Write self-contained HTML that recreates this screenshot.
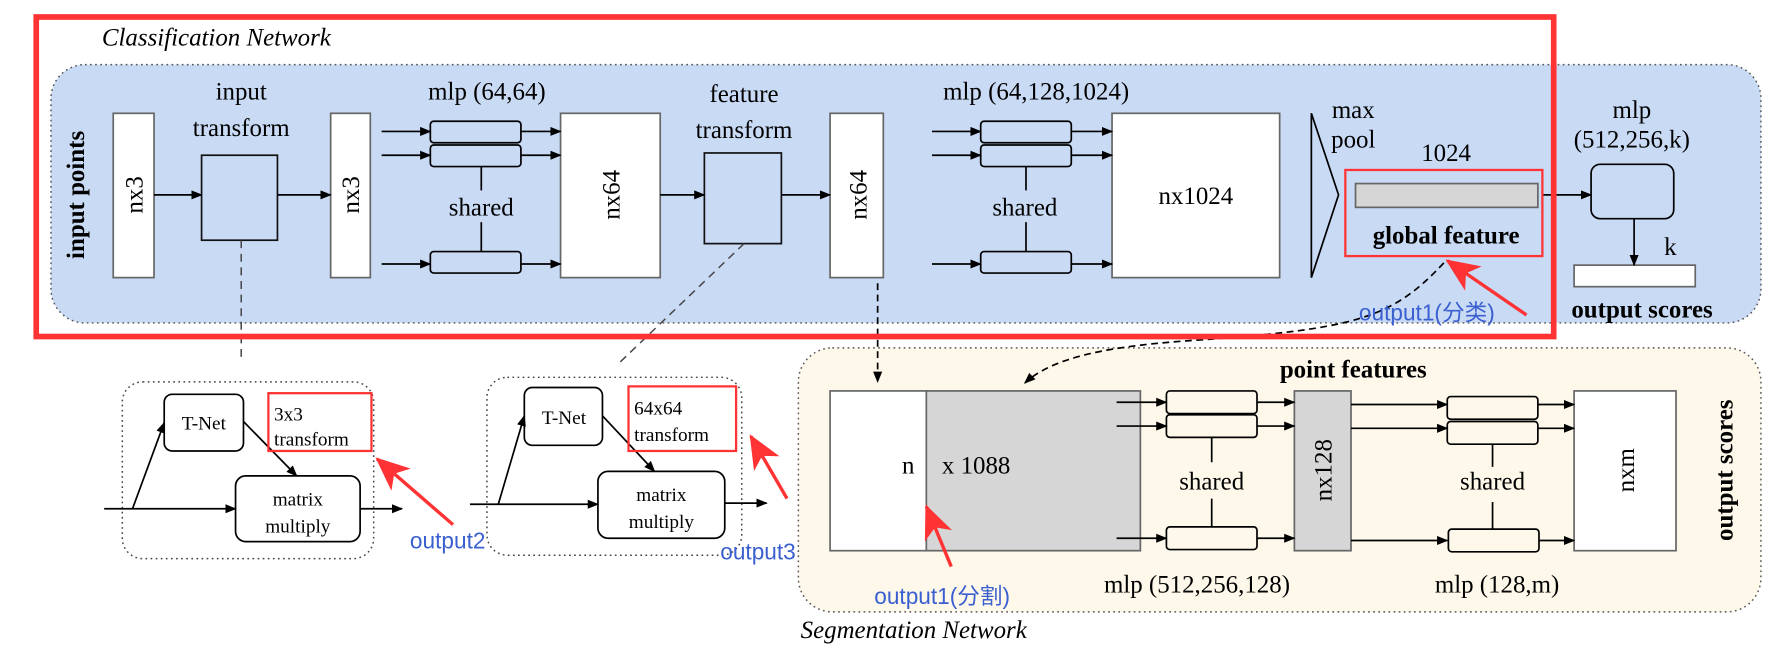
<!DOCTYPE html>
<html><head><meta charset="utf-8"><style>
html,body{margin:0;padding:0;background:#fff;}
svg{display:block}
svg text{font-family:"Liberation Serif","Times New Roman",serif;fill:#000}
svg text.c{font-family:"Liberation Sans","Noto Sans CJK SC",sans-serif;fill:#3a5fd0}
</style></head><body>
<svg width="1770" height="647" viewBox="0 0 1563 571" preserveAspectRatio="none" xmlns="http://www.w3.org/2000/svg" font-family="Liberation Serif, serif">
<defs>
<marker id="a" markerWidth="10" markerHeight="8" refX="9" refY="4" orient="auto" markerUnits="userSpaceOnUse"><path d="M0,0 L10,4 L0,8 z" fill="#000"/></marker>
<marker id="r" markerWidth="30" markerHeight="26" refX="28" refY="13" orient="auto" markerUnits="userSpaceOnUse"><path d="M0,0 L30,13 L0,26 L8,13 z" fill="#f33"/></marker>
</defs>
<rect x="45" y="57" width="1510" height="228" rx="30" fill="#c9daf5" stroke="#555" stroke-width="1.3" stroke-dasharray="1.5 3"/>
<rect x="705" y="307" width="850" height="233" rx="30" fill="#fdf8ea" stroke="#555" stroke-width="1.3" stroke-dasharray="1.5 3"/>

<text x="90" y="40" font-size="22" font-style="italic" font-family="Liberation Serif, serif">Classification Network</text>
<text transform="translate(74,172) rotate(-90)" font-size="22" font-weight="bold" text-anchor="middle" font-family="Liberation Serif, serif">input points</text>

<g stroke="#666" stroke-width="1.5" fill="#fff">
<rect x="100" y="100" width="36" height="145"/>
<rect x="292" y="100" width="35" height="145"/>
<rect x="495" y="100" width="88" height="145"/>
<rect x="733" y="100" width="47" height="145"/>
<rect x="982" y="100" width="148" height="145"/>
<rect x="1390" y="234" width="107" height="19"/>
</g>
<g stroke="#111" stroke-width="1.5" fill="none">
<rect x="178" y="137" width="67" height="75"/>
<rect x="622" y="135" width="68" height="80"/>
</g>
<g font-size="22" text-anchor="middle" font-family="Liberation Serif, serif">
<text transform="translate(126,172) rotate(-90)">nx3</text>
<text transform="translate(317,172) rotate(-90)">nx3</text>
<text transform="translate(547,172) rotate(-90)">nx64</text>
<text transform="translate(765,172) rotate(-90)">nx64</text>
<text x="1056" y="180">nx1024</text>
<text x="213" y="88">input</text>
<text x="213" y="120">transform</text>
<text x="657" y="90">feature</text>
<text x="657" y="122">transform</text>
<text x="430" y="88">mlp (64,64)</text>
<text x="915" y="88">mlp (64,128,1024)</text>
<text x="425" y="190">shared</text>
<text x="905" y="190">shared</text>
<text x="1195" y="104">max</text>
<text x="1195" y="130">pool</text>
<text x="1277" y="142">1024</text>
<text x="1441" y="104">mlp</text>
<text x="1441" y="130">(512,256,k)</text>
<text x="1475" y="225">k</text>
</g>
<g stroke="#000" stroke-width="1.5" fill="none">
<rect x="380" y="107" width="80" height="19" rx="3"/>
<rect x="380" y="128" width="80" height="19" rx="3"/>
<rect x="380" y="222" width="80" height="19" rx="3"/>
<rect x="866" y="107" width="80" height="19" rx="3"/>
<rect x="866" y="128" width="80" height="19" rx="3"/>
<rect x="866" y="222" width="80" height="19" rx="3"/>
<path d="M425 147V168M425 196V222M906 147V168M906 196V222"/>
<rect x="1405" y="145" width="73" height="48" rx="8"/>
<path d="M1158 100V245L1182 172Z"/>
</g>
<g stroke="#000" stroke-width="1.5" marker-end="url(#a)">
<line x1="136" y1="172" x2="178" y2="172"/>
<line x1="245" y1="172" x2="292" y2="172"/>
<line x1="583" y1="172" x2="622" y2="172"/>
<line x1="690" y1="172" x2="733" y2="172"/>
<line x1="337" y1="116" x2="380" y2="116"/><line x1="337" y1="137" x2="380" y2="137"/><line x1="337" y1="233" x2="380" y2="233"/>
<line x1="460" y1="116" x2="495" y2="116"/><line x1="460" y1="137" x2="495" y2="137"/><line x1="460" y1="233" x2="495" y2="233"/>
<line x1="823" y1="116" x2="866" y2="116"/><line x1="823" y1="137" x2="866" y2="137"/><line x1="823" y1="233" x2="866" y2="233"/>
<line x1="946" y1="116" x2="982" y2="116"/><line x1="946" y1="137" x2="982" y2="137"/><line x1="946" y1="233" x2="982" y2="233"/>
<line x1="1362" y1="172" x2="1405" y2="172"/>
<line x1="1443" y1="193" x2="1443" y2="234"/>
</g>
<rect x="1197" y="162" width="161" height="21" fill="#d6d6d6" stroke="#666" stroke-width="1.5"/>
<text x="1277" y="215" font-size="22" font-weight="bold" text-anchor="middle" font-family="Liberation Serif, serif">global feature</text>
<text x="1450" y="280" font-size="22" font-weight="bold" text-anchor="middle" font-family="Liberation Serif, serif">output scores</text>

<g stroke="#444" stroke-width="1.3" stroke-dasharray="7 5" fill="none">
<line x1="213" y1="212" x2="213" y2="320"/>
<line x1="657" y1="215" x2="545" y2="322"/>
</g>
<g stroke="#000" stroke-width="1.5" stroke-dasharray="6 4" fill="none" marker-end="url(#a)">
<line x1="775" y1="250" x2="775" y2="337"/>
<path d="M1275 232 C1230 280 1200 290 1060 300 C980 305 930 315 905 338"/>
</g>

<g stroke="#444" stroke-width="1.3" stroke-dasharray="1.5 3" fill="none">
<rect x="108" y="337" width="222" height="156" rx="18"/>
<rect x="430" y="333" width="225" height="157" rx="18"/>
</g>
<g stroke="#000" stroke-width="1.5" fill="#fff">
<rect x="145" y="348" width="70" height="50" rx="7"/>
<rect x="208" y="420" width="110" height="58" rx="9"/>
<rect x="463" y="342" width="69" height="51" rx="7"/>
<rect x="528" y="416" width="112" height="59" rx="9"/>
</g>
<g stroke="#000" stroke-width="1.5" marker-end="url(#a)">
<line x1="92" y1="449" x2="208" y2="449"/>
<line x1="117" y1="449" x2="145" y2="373"/>
<line x1="215" y1="372" x2="262" y2="420"/>
<line x1="318" y1="449" x2="355" y2="449"/>
<line x1="415" y1="445" x2="528" y2="445"/>
<line x1="440" y1="445" x2="463" y2="367"/>
<line x1="532" y1="367" x2="578" y2="416"/>
<line x1="640" y1="444" x2="677" y2="444"/>
</g>
<g font-size="17" text-anchor="middle" font-family="Liberation Serif, serif">
<text x="180" y="379">T-Net</text>
<text x="498" y="374">T-Net</text>
<text x="263" y="446">matrix</text>
<text x="263" y="470">multiply</text>
<text x="584" y="442">matrix</text>
<text x="584" y="466">multiply</text>
</g>
<g font-size="17" font-family="Liberation Serif, serif">
<text x="242" y="371">3x3</text>
<text x="242" y="393">transform</text>
<text x="560" y="366">64x64</text>
<text x="560" y="389">transform</text>
</g>

<rect x="733" y="345" width="85" height="141" fill="#fff" stroke="#666" stroke-width="1.5"/>
<rect x="818" y="345" width="189" height="141" fill="#d6d6d6" stroke="#666" stroke-width="1.5"/>
<rect x="1143" y="345" width="50" height="141" fill="#d6d6d6" stroke="#666" stroke-width="1.5"/>
<rect x="1390" y="345" width="90" height="141" fill="#fff" stroke="#666" stroke-width="1.5"/>
<g stroke="#000" stroke-width="1.5" fill="none">
<rect x="1030" y="345" width="80" height="20" rx="3"/>
<rect x="1030" y="366" width="80" height="20" rx="3"/>
<rect x="1030" y="465" width="80" height="20" rx="3"/>
<rect x="1278" y="350" width="80" height="20" rx="3"/>
<rect x="1278" y="372" width="80" height="20" rx="3"/>
<rect x="1279" y="467" width="80" height="20" rx="3"/>
<path d="M1070 386V408M1070 440V465M1318 392V412M1318 443V467"/>
</g>
<g stroke="#000" stroke-width="1.5" marker-end="url(#a)">
<line x1="986" y1="355" x2="1030" y2="355"/><line x1="986" y1="376" x2="1030" y2="376"/><line x1="986" y1="475" x2="1030" y2="475"/>
<line x1="1110" y1="355" x2="1143" y2="355"/><line x1="1110" y1="376" x2="1143" y2="376"/><line x1="1110" y1="475" x2="1143" y2="475"/>
<line x1="1193" y1="357" x2="1278" y2="357"/><line x1="1193" y1="378" x2="1278" y2="378"/><line x1="1193" y1="477" x2="1278" y2="477"/>
<line x1="1358" y1="357" x2="1390" y2="357"/><line x1="1358" y1="378" x2="1390" y2="378"/><line x1="1359" y1="477" x2="1390" y2="477"/>
</g>
<g font-size="22" text-anchor="middle" font-family="Liberation Serif, serif">
<text x="1195" y="333" font-weight="bold">point features</text>
<text x="802" y="418">n</text>
<text x="862" y="418">x 1088</text>
<text x="1070" y="432">shared</text>
<text x="1318" y="432">shared</text>
<text transform="translate(1176,415) rotate(-90)">nx128</text>
<text transform="translate(1443,415) rotate(-90)">nxm</text>
<text transform="translate(1530,415) rotate(-90)" font-weight="bold">output scores</text>
<text x="1057" y="523">mlp (512,256,128)</text>
<text x="1322" y="523">mlp (128,m)</text>
</g>
<text x="707" y="563" font-size="22" font-style="italic" font-family="Liberation Serif, serif">Segmentation Network</text>

<rect x="32" y="15" width="1340" height="282" fill="none" stroke="#f33" stroke-width="5"/>
<rect x="1188" y="150" width="174" height="76" fill="none" stroke="#f33" stroke-width="2"/>
<rect x="237" y="347" width="91" height="51" fill="none" stroke="#f33" stroke-width="2"/>
<rect x="555" y="341" width="95" height="57" fill="none" stroke="#f33" stroke-width="2"/>
<g stroke="#f33" stroke-width="3" marker-end="url(#r)">
<line x1="1348" y1="278" x2="1278" y2="230"/>
<line x1="400" y1="463" x2="333" y2="405"/>
<line x1="695" y1="440" x2="663" y2="385"/>
<line x1="840" y1="500" x2="818" y2="447"/>
</g>
<g font-size="20" font-family="Liberation Sans, Noto Sans CJK SC, sans-serif">
<text class="c" x="1200" y="283">output1(分类)</text>
<text class="c" x="362" y="484">output2</text>
<text class="c" x="636" y="494">output3</text>
<text class="c" x="772" y="533">output1(分割)</text>
</g>
</svg>
</body></html>
